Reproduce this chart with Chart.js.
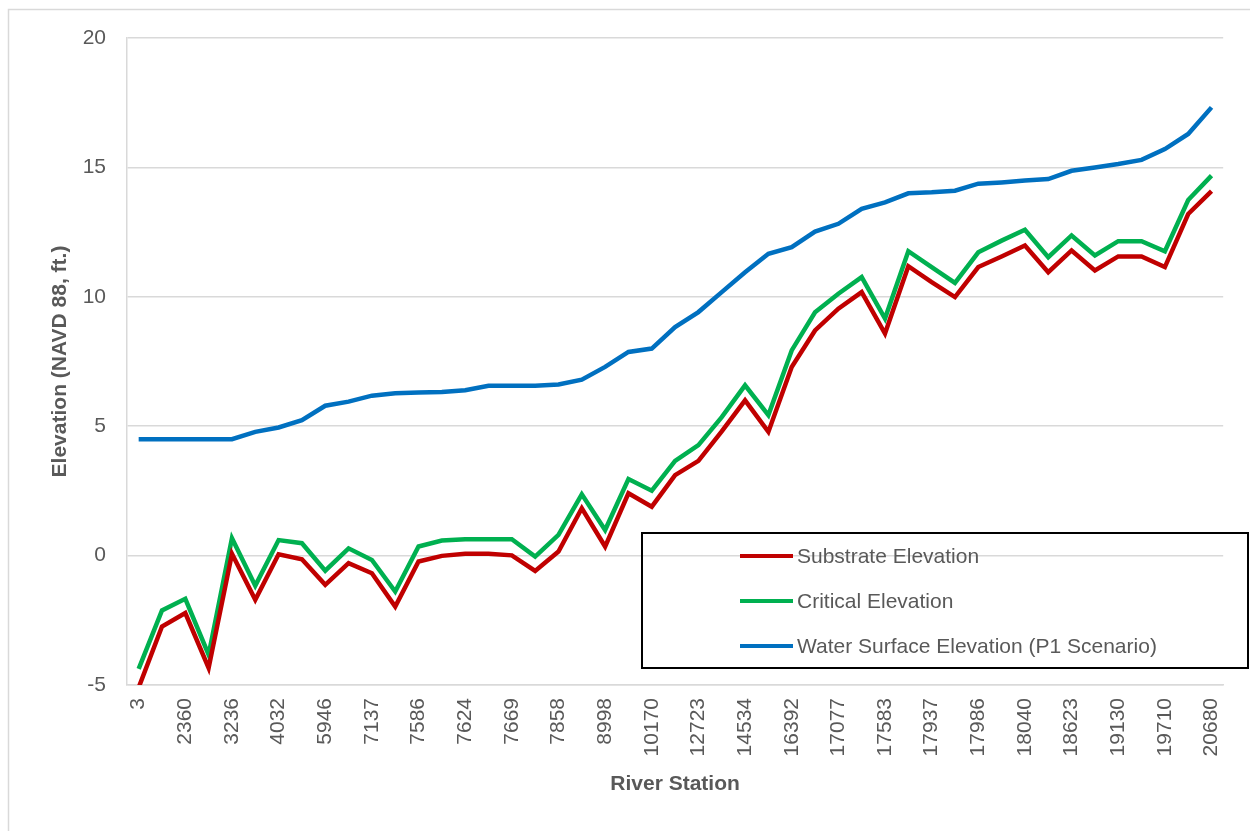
<!DOCTYPE html>
<html>
<head>
<meta charset="utf-8">
<script src="https://cdn.jsdelivr.net/npm/chart.js@4.4.1/dist/chart.umd.min.js"></script>
<style>
  html, body { margin: 0; padding: 0; background: #fff; }
  #wrap { position: relative; width: 1250px; height: 831px; }
</style>
</head>
<body>
<div id="wrap"><canvas id="elevChart" width="1250" height="831"></canvas></div>
<script>
// River stations (every other one is labelled on the axis)
const stations = ['3', '1180', '2360', '2790', '3236', '3630', '4032', '4980', '5946', '6540',
  '7137', '7360', '7586', '7605', '7624', '7646', '7669', '7760', '7858', '8430',
  '8998', '9580', '10170', '11450', '12723', '13630', '14534', '15460', '16392', '16730',
  '17077', '17330', '17583', '17760', '17937', '17960', '17986', '18013', '18040', '18330',
  '18623', '18876', '19130', '19420', '19710', '20195', '20680'];

const substrate = [-5.1, -2.74, -2.22, -4.34, 0.07, -1.71, 0.05, -0.14, -1.13, -0.29,
  -0.68, -1.97, -0.23, -0.01, 0.07, 0.07, 0.01, -0.59, 0.16, 1.83,
  0.35, 2.41, 1.89, 3.11, 3.66, 4.8, 6.0, 4.78, 7.29, 8.7,
  9.54, 10.18, 8.58, 11.18, 10.57, 9.99, 11.15, 11.56, 11.98, 10.95,
  11.79, 11.02, 11.56, 11.56, 11.15, 13.2, 14.08];

const critical = [-4.38, -2.12, -1.67, -3.83, 0.67, -1.16, 0.6, 0.48, -0.58, 0.28,
  -0.17, -1.39, 0.35, 0.58, 0.63, 0.63, 0.63, -0.04, 0.8, 2.37,
  0.99, 2.96, 2.51, 3.66, 4.27, 5.35, 6.58, 5.43, 7.93, 9.4,
  10.12, 10.76, 9.16, 11.76, 11.15, 10.54, 11.72, 12.17, 12.59, 11.53,
  12.37, 11.6, 12.15, 12.15, 11.76, 13.74, 14.68];

const waterSurface = [4.5, 4.5, 4.5, 4.5, 4.5, 4.78, 4.95, 5.23, 5.79, 5.95,
  6.18, 6.27, 6.3, 6.32, 6.39, 6.56, 6.56, 6.56, 6.61, 6.8,
  7.29, 7.87, 8.0, 8.83, 9.41, 10.18, 10.95, 11.66, 11.92, 12.52,
  12.82, 13.4, 13.65, 14.0, 14.04, 14.1, 14.37, 14.42, 14.49, 14.55,
  14.87, 15.0, 15.13, 15.29, 15.71, 16.29, 17.32];

const yTicks = [-5, 0, 5, 10, 15, 20];

const FONT = '"Liberation Sans", Arial, sans-serif';
const GREY_TEXT = '#595959';
const GRID = '#d9d9d9';

// outer chart-area frame like the spreadsheet export
const framePlugin = {
  id: 'frame',
  beforeDraw(chart) {
    const c = chart.ctx;
    c.save();
    c.fillStyle = '#fff';
    c.fillRect(0, 0, chart.width, chart.height);
    c.strokeStyle = GRID;
    c.lineWidth = 1.5;
    c.strokeRect(8.5, 9.5, 1300, 900);
    c.restore();
  }
};

// boxed legend sitting over the plot (lower right)
const boxLegend = {
  id: 'boxLegend',
  afterDraw(chart) {
    const c = chart.ctx;
    c.save();
    c.strokeStyle = '#000';
    c.lineWidth = 2;
    c.strokeRect(642, 533, 606, 135);
    c.font = '21px ' + FONT;
    c.textBaseline = 'middle';
    c.fillStyle = GREY_TEXT;
    const rows = [556, 601, 646];
    chart.data.datasets.forEach((ds, i) => {
      c.strokeStyle = ds.borderColor;
      c.lineWidth = 4;
      c.beginPath();
      c.moveTo(740, rows[i]);
      c.lineTo(793, rows[i]);
      c.stroke();
      c.fillText(ds.label, 797, rows[i] + 1);
    });
    c.restore();
  }
};

const ctx = document.getElementById('elevChart').getContext('2d');
const elevChart = new Chart(ctx, {
  type: 'line',
  data: {
    labels: stations,
    datasets: [
      { label: 'Substrate Elevation', data: substrate, borderColor: '#C00000' },
      { label: 'Critical Elevation', data: critical, borderColor: '#00B050' },
      { label: 'Water Surface Elevation (P1 Scenario)', data: waterSurface, borderColor: '#0070C0' }
    ]
  },
  options: {
    responsive: false,
    animation: false,
    elements: {
      line: { borderWidth: 4.5, tension: 0, borderJoinStyle: 'miter' },
      point: { radius: 0, hoverRadius: 0 }
    },
    layout: { padding: { top: 38, right: 26, bottom: 0, left: 0 } },
    plugins: {
      legend: { display: false },
      tooltip: { enabled: false }
    },
    scales: {
      x: {
        offset: true,
        grid: { display: false, drawTicks: false },
        border: { display: true, color: GRID, width: 1.5 },
        ticks: {
          autoSkip: false,
          minRotation: 90,
          maxRotation: 90,
          padding: 13,
          color: GREY_TEXT,
          font: { family: FONT, size: 21 },
          callback: function (v, i) { return i % 2 === 0 ? this.getLabelForValue(v) : ''; }
        },
        title: {
          display: true,
          text: 'River Station',
          color: GREY_TEXT,
          font: { family: FONT, size: 21, weight: 'bold' },
          padding: { top: 10, bottom: 34 }
        },
        afterFit(scale) { scale.height = 146; }
      },
      y: {
        min: -5,
        max: 20,
        afterBuildTicks(scale) { scale.ticks = yTicks.map(v => ({ value: v })); },
        grid: { color: GRID, lineWidth: 1.5, drawTicks: false },
        border: { display: true, color: GRID, width: 1.5 },
        ticks: {
          padding: 21,
          color: GREY_TEXT,
          font: { family: FONT, size: 21 }
        },
        title: {
          display: true,
          text: 'Elevation (NAVD 88, ft.)',
          color: GREY_TEXT,
          font: { family: FONT, size: 21, weight: 'bold' },
          padding: { top: 48, bottom: 0 }
        },
        afterFit(scale) { scale.width = 127; }
      }
    }
  },
  plugins: [framePlugin, boxLegend]
});
</script>
</body>
</html>
